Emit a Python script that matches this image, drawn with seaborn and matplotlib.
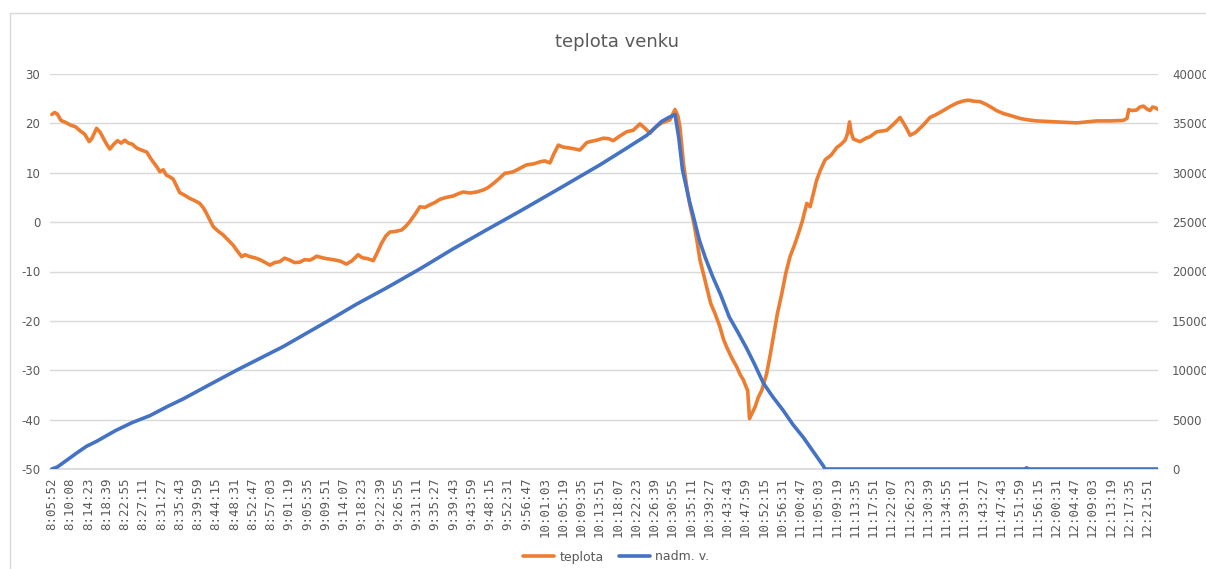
import matplotlib
matplotlib.use("Agg")
import matplotlib.pyplot as plt
import seaborn as sns
from matplotlib.lines import Line2D
from matplotlib.patches import Rectangle

# x tick labels (one every 256 samples)
times = ["8:05:52", "8:10:08", "8:14:23", "8:18:39", "8:22:55", "8:27:11", "8:31:27",
         "8:35:43", "8:39:59", "8:44:15", "8:48:31", "8:52:47", "8:57:03", "9:01:19",
         "9:05:35", "9:09:51", "9:14:07", "9:18:23", "9:22:39", "9:26:55", "9:31:11",
         "9:35:27", "9:39:43", "9:43:59", "9:48:15", "9:52:31", "9:56:47", "10:01:03",
         "10:05:19", "10:09:35", "10:13:51", "10:18:07", "10:22:23", "10:26:39", "10:30:55",
         "10:35:11", "10:39:27", "10:43:43", "10:47:59", "10:52:15", "10:56:31", "11:00:47",
         "11:05:03", "11:09:19", "11:13:35", "11:17:51", "11:22:07", "11:26:23", "11:30:39",
         "11:34:55", "11:39:11", "11:43:27", "11:47:43", "11:51:59", "11:56:15", "12:00:31",
         "12:04:47", "12:09:03", "12:13:19", "12:17:35", "12:21:51"]

# teplota (left axis), positions in tick-label units
temp_pos = [0.0, 0.15, 0.3, 0.5, 0.75, 1.0, 1.3, 1.55, 1.8, 2.05, 2.2, 2.45, 2.65, 2.85,
            3.0, 3.18, 3.4, 3.6, 3.8, 4.0, 4.2, 4.4, 4.65, 4.9, 5.2, 5.4, 5.55, 5.75,
            5.92, 6.1, 6.28, 6.45, 6.65, 6.85, 7.0, 7.3, 7.56, 7.8, 8.1, 8.3, 8.47, 8.65,
            8.84, 9.1, 9.39, 9.65, 9.94, 10.15, 10.4, 10.6, 10.85, 11.1, 11.4, 11.7, 11.95,
            12.2, 12.49, 12.75, 13.04, 13.3, 13.59, 13.85, 14.14, 14.35, 14.5, 14.8, 15.05,
            15.41, 15.8, 16.14, 16.45, 16.78, 17.0, 17.3, 17.61, 17.85, 18.06, 18.3, 18.52,
            18.8, 19.16, 19.4, 19.61, 19.9, 20.16, 20.45, 20.71, 21.0, 21.25, 21.6, 21.99,
            22.3, 22.54, 22.9, 23.27, 23.63, 23.9, 24.18, 24.5, 24.82, 25.05, 25.28, 25.65,
            26.01, 26.4, 26.74, 27.0, 27.29, 27.5, 27.75, 28.0, 28.2, 28.55, 28.93, 29.3,
            29.48, 29.85, 30.21, 30.5, 30.76, 31.1, 31.49, 31.85, 32.22, 32.5, 32.77, 33.1,
            33.41, 33.86, 34.14, 34.3, 34.41, 34.6, 34.78, 34.95, 35.14, 35.33, 35.51, 35.7,
            35.87, 36.1, 36.33, 36.6, 36.8, 36.97, 37.25, 37.52, 37.7, 37.89, 38.07, 38.12,
            38.22, 38.35, 38.53, 38.7, 38.89, 39.16, 39.35, 39.53, 39.75, 39.99, 40.2, 40.44,
            40.7, 40.9, 41.1, 41.36, 41.54, 41.7, 41.9, 42.1, 42.36, 42.7, 43.0, 43.25, 43.46,
            43.6, 43.7, 43.8, 43.92, 44.28, 44.6, 44.82, 45.19, 45.74, 46.1, 46.47, 46.75,
            47.02, 47.29, 47.5, 47.75, 48.11, 48.45, 48.84, 49.2, 49.57, 49.9, 50.21, 50.5,
            50.85, 51.1, 51.4, 51.75, 52.13, 52.6, 53.04, 53.5, 53.95, 54.5, 55.05, 55.6,
            56.15, 56.7, 57.24, 58.0, 58.7, 58.9, 59.0, 59.16, 59.43, 59.6, 59.8, 60.0,
            60.16, 60.3, 60.44, 60.62]
temp = [21.8, 22.2, 21.9, 20.6, 20.2, 19.7, 19.3, 18.5, 17.8, 16.3, 17.0, 19.0, 18.2, 16.8,
        15.8, 14.8, 15.8, 16.5, 16.0, 16.6, 16.0, 15.8, 15.0, 14.6, 14.2, 13.0, 12.2, 11.2,
        10.2, 10.6, 9.5, 9.2, 8.7, 7.2, 6.0, 5.4, 4.8, 4.4, 3.8, 2.9, 1.8, 0.5,
        -0.9, -1.8, -2.6, -3.6, -4.7, -5.8, -7.0, -6.6, -7.0, -7.2, -7.6, -8.2, -8.7,
        -8.2, -8.0, -7.3, -7.7, -8.2, -8.1, -7.6, -7.7, -7.3, -6.9, -7.2, -7.4,
        -7.6, -7.9, -8.5, -7.8, -6.6, -7.2, -7.4, -7.8, -6.0, -4.3, -2.8, -2.0,
        -1.9, -1.6, -0.8, 0.1, 1.6, 3.1, 3.0, 3.5, 4.0, 4.6, 5.0, 5.3,
        5.8, 6.1, 5.9, 6.1, 6.5, 7.0, 7.8, 8.8, 9.9, 10.0, 10.2, 10.9,
        11.6, 11.8, 12.2, 12.4, 12.0, 13.8, 15.6, 15.2, 15.1, 14.9, 14.6, 16.1,
        16.3, 16.6, 17.0, 16.9, 16.5, 17.4, 18.3, 18.6, 19.9, 19.0, 18.0, 19.3,
        20.1, 20.7, 22.8, 21.5, 19.3, 12.0, 7.2, 3.5, 0.4, -3.5, -7.7, -10.5,
        -13.1, -16.5, -18.5, -21.2, -23.8, -25.3, -27.5, -29.3, -30.8, -32.0, -33.7, -34.0,
        -39.8, -38.8, -37.4, -35.5, -34.1, -30.7, -27.0, -23.2, -18.5, -14.5, -10.5, -7.0,
        -4.5, -2.3, 0.0, 3.8, 3.1, 5.5, 8.5, 10.5, 12.6, 13.6, 15.1, 15.8, 16.6,
        18.0, 20.3, 18.0, 16.8, 16.3, 17.0, 17.3, 18.3, 18.6, 19.8, 21.2, 19.5,
        17.6, 18.1, 18.8, 19.7, 21.2, 21.8, 22.6, 23.4, 24.1, 24.5, 24.7, 24.5,
        24.4, 24.0, 23.4, 22.6, 22.0, 21.5, 21.0, 20.7, 20.5, 20.4, 20.3, 20.2,
        20.1, 20.3, 20.5, 20.5, 20.6, 21.0, 22.8, 22.6, 22.7, 23.3, 23.5, 22.9,
        22.6, 23.3, 23.2, 22.8]

# nadm. v. (right axis)
alt_pos = [0.0, 0.3, 0.45, 0.9, 1.35, 1.9, 2.45, 3.5, 4.4, 5.37, 6.3, 7.2, 8.6, 10.12,
           11.4, 12.68, 14.0, 15.23, 16.7, 18.3, 20.2, 21.99, 23.8, 25.64, 27.8, 30.03,
           31.5, 32.6, 33.41, 33.8, 34.14, 34.35, 34.55, 34.92, 35.2, 35.47, 35.8, 36.2,
           36.65, 37.11, 37.6, 38.07, 38.5, 38.98, 39.5, 40.08, 40.6, 41.17, 41.7, 42.27,
           42.36, 53.3, 53.4, 53.5, 60.65]
alt = [0, 200, 400, 1000, 1600, 2300, 2800, 3900, 4700, 5400, 6300, 7100, 8500, 10000,
       11200, 12400, 13800, 15100, 16700, 18300, 20300, 22300, 24200, 26100, 28400, 30800,
       32500, 33800, 35200, 35600, 35900, 33500, 30300, 27200, 25200, 23200, 21400, 19500,
       17600, 15400, 13800, 12200, 10600, 8700, 7300, 5900, 4500, 3200, 1800, 300,
       0, 0, 120, 0, 0]

ORANGE = "#ED7D31"
BLUE = "#4472C4"
GRID = "#D9D9D9"
TEXT = "#595959"

sns.set_theme(style="white")
plt.rcParams["font.family"] = ["DejaVu Sans"]
plt.rcParams["axes.unicode_minus"] = False

fig = plt.figure(figsize=(12.06, 5.69), dpi=100)
ax = fig.add_axes([50 / 1206, 1 - 469 / 569, (1158 - 50) / 1206, (469 - 74) / 569])
ax2 = ax.twinx()

sns.lineplot(x=temp_pos, y=temp, ax=ax, color=ORANGE, linewidth=2.6)
sns.lineplot(x=alt_pos, y=alt, ax=ax2, color=BLUE, linewidth=2.6)

ax.set_xlim(-0.1, 60.6)
ax.set_ylim(-50, 30)
ax.set_yticks(range(-50, 31, 10))
ax2.set_ylim(0, 40000)
ax2.set_yticks(range(0, 40001, 5000))

ax.set_xticks(range(len(times)))
ax.set_xticklabels(times, rotation=90, family="DejaVu Sans Mono", fontsize=9, color=TEXT)
ax.tick_params(axis="x", length=0, pad=6)
ax.tick_params(axis="y", length=0, pad=7, labelsize=8.5, labelcolor=TEXT)
ax2.tick_params(axis="y", length=0, pad=10, labelsize=8.5, labelcolor=TEXT)

ax.yaxis.grid(True, color=GRID, linewidth=1)
ax.xaxis.grid(False)
ax2.grid(False)
for name, sp in ax.spines.items():
    sp.set_visible(name == "bottom")
ax.spines["bottom"].set_color(GRID)
for sp in ax2.spines.values():
    sp.set_visible(False)
ax.set_xlabel("")
ax.set_ylabel("")
ax2.set_ylabel("")

fig.text(617 / 1206, 1 - 42 / 569, "teplota venku", ha="center", va="center",
         fontsize=13, color=TEXT)

handles = [Line2D([], [], color=ORANGE, linewidth=2.6),
           Line2D([], [], color=BLUE, linewidth=2.6)]
fig.legend(handles, ["teplota", "nadm. v."], loc="center", ncol=2,
           bbox_to_anchor=(616 / 1206, 1 - 557 / 569), frameon=False, fontsize=9,
           labelcolor=TEXT, handlelength=2.5, handletextpad=0.4, columnspacing=1.2)

fig.add_artist(Rectangle((10 / 1206, -0.01), 1.0, 1 - 13 / 569 + 0.01,
                         transform=fig.transFigure, fill=False, edgecolor=GRID,
                         linewidth=1))

fig.savefig("out.png", dpi=100, facecolor="white")
